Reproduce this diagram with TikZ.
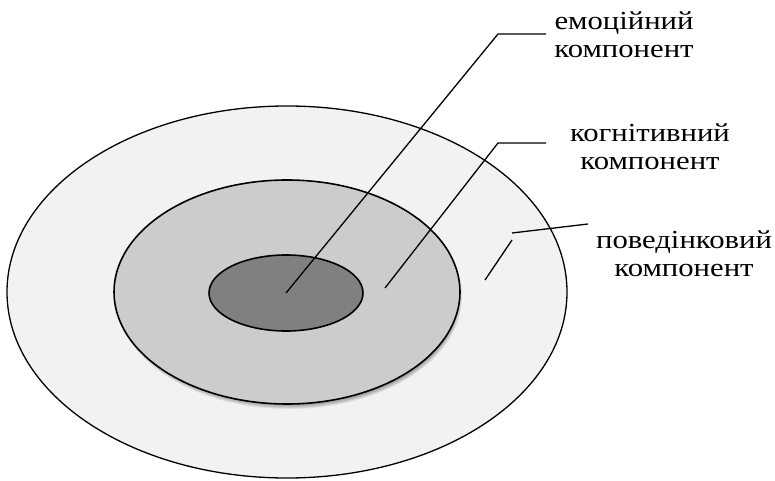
\documentclass[tikz,border=0pt]{standalone}
\usepackage{fontspec}
\setmainfont[FakeStretch=1.18]{Liberation Serif}
\usetikzlibrary{shapes.geometric}
\definecolor{outerfill}{gray}{0.95}
\definecolor{midfill}{gray}{0.80}
\definecolor{corefill}{gray}{0.50}
\tikzset{
  layer/.style={ellipse, draw=black, inner sep=0pt},
  leader/.style={line width=1.3pt},
  caption/.style={align=center, inner sep=0pt, font=\fontsize{26}{28}\selectfont}
}
\begin{document}
\begin{tikzpicture}[x=1pt,y=-1pt]
		\useasboundingbox (0,0) rectangle (775,481);
		\node[layer, fill=outerfill, line width=1.3pt, minimum width=560pt, minimum height=372pt] (behav) at (287,292) {};
		% shadow under the middle layer
		\foreach \k in {0,...,6}
			\fill[black, opacity=0.08] (289,297) ellipse ({173-\k} and {112-\k});
		\node[layer, fill=midfill, line width=1.6pt, minimum width=346pt, minimum height=224pt] (cogn) at (287,292) {};
		\node[layer, fill=corefill, line width=1.6pt, minimum width=154pt, minimum height=76pt] (emot) at (286,293) {};
		\coordinate (e1) at (498,34);
		\coordinate (e2) at (546,34);
		\coordinate (c0) at (385,288);
		\coordinate (c1) at (498,143);
		\coordinate (c2) at (546,143);
		\coordinate (b0) at (485,280);
		\coordinate (b1) at (512,240);
		\coordinate (b2) at (512,233);
		\coordinate (b3) at (588,224);
		\draw[leader] (emot.center) -- (e1) -- (e2);
		\draw[leader] (c0) -- (c1) -- (c2);
		\draw[leader] (b0) -- (b1);
		\draw[leader] (b2) -- (b3);
		\node[caption] (emotlabel) at (624,35) {емоційний\\компонент};
		\node[caption] (cognlabel) at (650,147) {когнітивний\\компонент};
		\node[caption] (behavlabel) at (684,254) {поведінковий\\компонент};
	\end{tikzpicture}
\end{document}
